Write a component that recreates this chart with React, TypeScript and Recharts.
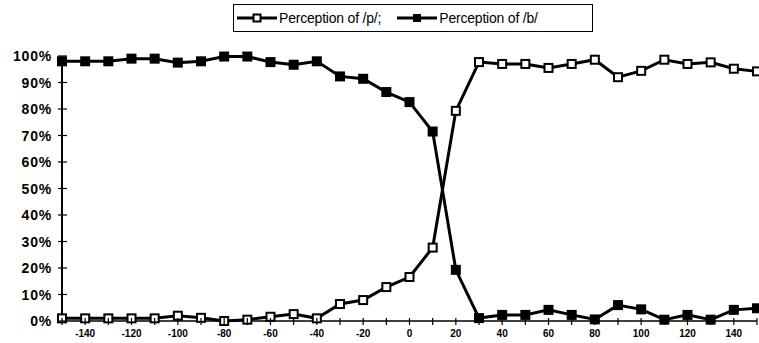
import { Line, LineChart, XAxis, YAxis } from "recharts";

// VOT continuum (ms) and identification scores (%)
const vot = [
  -150, -140, -130, -120, -110, -100, -90, -80, -70, -60, -50, -40, -30, -20, -10, 0,
  10, 20, 30, 40, 50, 60, 70, 80, 90, 100, 110, 120, 130, 140, 150,
];
const percP = [
  1, 1, 1, 1, 1, 2, 1.2, 0, 0.5, 1.6, 2.6, 1, 6.4, 7.9, 12.8, 16.6,
  27.7, 79.3, 97.7, 97, 97, 95.5, 97, 98.6, 92, 94.4, 98.6, 97, 97.6, 95.2, 94.2,
];
const percB = [
  98, 98, 98, 99, 99, 97.5, 98, 99.8, 99.8, 97.7, 96.7, 98, 92.3, 91.4, 86.4, 82.6,
  71.5, 19.3, 1.1, 2.3, 2.3, 4.2, 2.3, 0.6, 6, 4.4, 0.5, 2.3, 0.5, 4.2, 4.8,
];
const xTicks = vot;
const yTicks = [0, 10, 20, 30, 40, 50, 60, 70, 80, 90, 100];

const rows = vot.map((v, i) => ({ vot: v, p: percP[i], b: percB[i] }));

const FONT = "'Liberation Sans', Arial, sans-serif";

const OpenSquare = (props: any) => {
  const { cx, cy } = props;
  if (cx == null || cy == null) return null;
  return <rect x={cx - 4} y={cy - 4} width={8} height={8} fill="#fff" stroke="#000" strokeWidth={2} />;
};

const FilledSquare = (props: any) => {
  const { cx, cy } = props;
  if (cx == null || cy == null) return null;
  return <rect x={cx - 5} y={cy - 5} width={10} height={10} fill="#000" />;
};

const XTick = (props: any) => {
  const { x, y, payload } = props;
  const v = payload.value;
  const show = v % 20 === 0 && Math.abs(v) < 150;
  return (
    <g>
      <line x1={x} x2={x} y1={y - 3} y2={y + 4} stroke="#000" strokeWidth={1.2} />
      {show && (
        <text x={x} y={y + 16} textAnchor="middle" fontFamily={FONT} fontWeight="bold" fontSize={10} fill="#000">
          {v}
        </text>
      )}
    </g>
  );
};

const YTick = (props: any) => {
  const { x, y, payload } = props;
  return (
    <g>
      <line x1={x - 4} x2={x + 5} y1={y} y2={y} stroke="#000" strokeWidth={1.2} />
      <text
        x={x - 10}
        y={y + 5}
        textAnchor="end"
        fontFamily={FONT}
        fontWeight="bold"
        fontSize={14}
        letterSpacing={0.8}
        fill="#000"
      >
        {payload.value}%
      </text>
    </g>
  );
};

const LegendIcon = ({ filled }: { filled: boolean }) => (
  <svg width={40} height={12} style={{ marginRight: 2 }}>
    <line x1={0} x2={40} y1={6} y2={6} stroke="#000" strokeWidth={3} />
    {filled ? (
      <rect x={16} y={2} width={8} height={8} fill="#000" />
    ) : (
      <rect x={16.5} y={2.5} width={7} height={7} fill="#fff" stroke="#000" strokeWidth={2} />
    )}
  </svg>
);

const LegendBox = () => (
  <div
    style={{
      position: "absolute",
      left: 233,
      top: 4,
      width: 360,
      height: 28,
      border: "1.5px solid #000",
      boxSizing: "border-box",
      display: "flex",
      alignItems: "center",
      paddingLeft: 3,
      fontFamily: FONT,
      fontSize: 14,
      letterSpacing: -0.2,
      color: "#000",
      background: "#fff",
      whiteSpace: "nowrap",
    }}
  >
    <span style={{ display: "flex", alignItems: "center", marginRight: 16 }}>
      <LegendIcon filled={false} />
      Perception of /p/;
    </span>
    <span style={{ display: "flex", alignItems: "center" }}>
      <LegendIcon filled={true} />
      Perception of /b/
    </span>
  </div>
);

export default function App() {
  return (
    <div style={{ position: "absolute", left: 0, top: 0, width: 759, height: 343, background: "#fff" }}>
      <LineChart width={759} height={343} data={rows} margin={{ top: 56, right: 2, bottom: 0, left: 0 }}>
        <XAxis
          dataKey="vot"
          type="number"
          domain={[-150, 150]}
          ticks={xTicks}
          interval={0}
          tick={<XTick />}
          tickLine={false}
          tickSize={0}
          tickMargin={0}
          axisLine={{ stroke: "#000", strokeWidth: 1.5 }}
          height={22}
        />
        <YAxis
          type="number"
          domain={[0, 100]}
          ticks={yTicks}
          interval={0}
          tick={<YTick />}
          tickLine={false}
          tickSize={0}
          tickMargin={0}
          width={62}
          axisLine={{ stroke: "#000", strokeWidth: 2 }}
        />
        <Line
          dataKey="p"
          stroke="#000"
          strokeWidth={3}
          dot={<OpenSquare />}
          isAnimationActive={false}
        />
        <Line
          dataKey="b"
          stroke="#000"
          strokeWidth={3}
          dot={<FilledSquare />}
          isAnimationActive={false}
        />
      </LineChart>
      <LegendBox />
    </div>
  );
}
